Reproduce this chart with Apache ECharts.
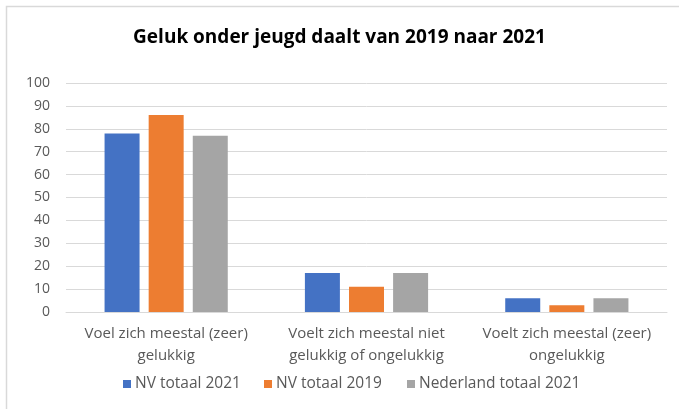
<!DOCTYPE html>
<html><head><meta charset="utf-8">
<script src="https://cdn.jsdelivr.net/npm/echarts@6/dist/echarts.min.js"></script>
<style>html,body{margin:0;padding:0;background:#fff}#c{width:679px;height:409px}</style>
</head><body><div id="c"></div>
<script>
const title = 'Geluk onder jeugd daalt van 2019 naar 2021';
const categories = ['Voel zich meestal (zeer)\ngelukkig', 'Voelt zich meestal niet\ngelukkig of ongelukkig', 'Voelt zich meestal (zeer)\nongelukkig'];
const seriesNames = ['NV totaal 2021', 'NV totaal 2019', 'Nederland totaal 2021'];
const nv2021 = [78, 17, 6];
const nv2019 = [86, 11, 3];
const nl2021 = [77, 17, 6];
const colors = ['#4472c4', '#ed7d31', '#a5a5a5'];
const font = "'Open Sans', sans-serif";
const chart = echarts.init(document.getElementById('c'), null, {renderer: 'canvas'});
const values = [nv2021, nv2019, nl2021];
const legendLeft = [118, 259, 402];
chart.setOption({
  animation: false,
  backgroundColor: '#fff',
  title: {text: title, left: 'center', top: 23, textStyle: {fontFamily: font, fontWeight: 'bold', fontSize: 19, color: '#000'}},
  graphic: [{type: 'rect', shape: {x: 6.5, y: 6.5, width: 720, height: 440}, style: {fill: 'none', stroke: '#d9d9d9', lineWidth: 1.5}, silent: true}],
  grid: {left: 66, right: 12, top: 83, bottom: 97},
  legend: seriesNames.map((n, i) => ({top: 371, left: legendLeft[i], itemWidth: 8, itemHeight: 8, itemGap: 4, icon: 'rect',
    textStyle: {fontFamily: font, fontSize: 15.5, color: '#595959', padding: [0, 0, 0, -1]}, data: [n]})),
  xAxis: {type: 'category', data: categories,
    axisLine: {lineStyle: {color: '#d9d9d9'}}, axisTick: {show: false},
    axisLabel: {interval: 0, hideOverlap: false, fontFamily: font, fontSize: 15, color: '#595959', lineHeight: 22, margin: 11}},
  yAxis: {type: 'value', min: 0, max: 100, interval: 10,
    axisLine: {show: false}, axisTick: {show: false},
    splitLine: {lineStyle: {color: '#d9d9d9'}},
    axisLabel: {fontFamily: font, fontSize: 14, color: '#595959', margin: 16}},
  series: seriesNames.map((n, i) => ({name: n, type: 'bar', data: values[i], barWidth: 35, barGap: '26%',
    itemStyle: {color: colors[i]}}))
});
</script></body></html>
